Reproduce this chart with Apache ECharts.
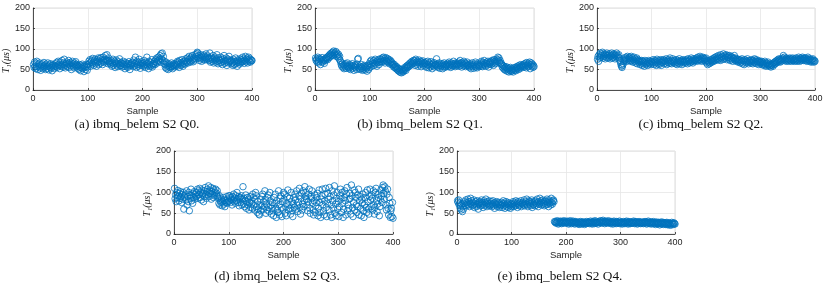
<!DOCTYPE html>
<html><head><meta charset="utf-8">
<script src="https://cdn.jsdelivr.net/npm/echarts@6/dist/echarts.min.js"></script>
<style>html,body{margin:0;padding:0;background:#fff}#c{width:831px;height:286px}</style>
</head><body><div id="c"></div>
<script>
const xTicks = [0, 100, 200, 300, 400];
const yTicks = [0, 50, 100, 150, 200];
const xLabel = 'Sample';
const yLabel = 'T\u2081(\u03bcs)';
const captions = ['(a) ibmq_belem S2 Q0.', '(b) ibmq_belem S2 Q1.', '(c) ibmq_belem S2 Q2.', '(d) ibmq_belem S2 Q3.', '(e) ibmq_belem S2 Q4.'];

const q0 = [
62,55,68,58,52,65,70,57,50,63,59,66,54,48,61,57,64,52,58,67,
55,60,50,63,57,52,66,58,49,61,55,64,53,59,47,62,56,60,52,58,
64,58,67,55,61,70,59,63,52,68,60,57,72,62,56,66,75,60,54,65,
61,68,57,64,72,55,62,67,59,50,65,70,58,63,54,66,61,69,57,62,
60,53,58,50,62,55,47,59,54,63,52,57,45,60,55,50,58,62,48,56,
62,70,65,74,58,68,72,63,77,66,60,71,75,64,69,58,73,67,78,62,
70,76,65,79,68,73,62,80,71,67,75,84,69,74,86,72,64,78,70,66,
68,62,72,58,66,75,60,64,70,55,67,73,61,65,57,69,63,76,59,66,
60,66,56,64,70,58,62,52,67,61,57,65,55,63,69,59,50,64,60,66,
62,68,57,73,64,59,80,66,55,70,62,58,67,75,61,53,65,69,60,64,
66,58,72,61,55,68,63,80,59,65,52,70,62,57,67,60,74,56,64,61,
65,70,62,74,68,78,66,72,80,70,75,84,68,88,76,90,72,82,65,70,
62,55,68,52,58,64,50,60,56,63,54,58,66,57,52,61,59,64,56,62,
60,66,58,70,63,68,55,72,64,60,67,74,62,58,69,65,71,63,76,67,
70,78,66,74,82,70,76,68,80,72,84,75,69,78,73,86,77,82,88,92,
90,78,84,72,80,76,86,70,82,75,79,85,73,81,77,88,74,80,83,76,
78,72,90,68,76,80,70,74,84,66,77,72,80,68,75,86,70,64,78,73,
72,66,80,68,74,62,76,70,84,65,72,68,78,60,71,75,66,82,69,73,
70,64,72,66,60,75,68,62,70,78,65,69,58,73,67,71,63,76,66,70,
74,68,80,70,76,65,72,82,69,75,78,66,73,80,70,76,68,74,71,72
];
const q1 = [
78,72,75,68,80,70,66,77,73,62,75,70,79,68,74,71,65,76,72,78,
76,80,74,82,78,85,80,88,83,90,86,92,84,95,88,91,86,94,82,90,
85,80,87,76,82,72,68,62,58,65,55,60,52,62,57,64,53,59,66,56,
58,52,62,55,50,60,57,64,53,59,48,56,61,54,58,50,63,75,77,55,
52,58,50,56,62,53,48,57,51,60,55,49,58,53,46,56,60,50,64,55,
70,62,73,58,68,65,72,60,66,75,63,69,58,71,67,74,62,68,76,70,
74,68,78,70,80,72,76,66,79,73,70,77,68,75,71,64,73,67,70,62,
66,60,63,56,62,55,58,52,57,50,54,47,52,45,50,43,48,42,51,46,
44,50,47,55,52,48,58,54,60,56,62,58,65,60,67,62,70,64,68,72,
66,72,60,75,68,63,70,58,67,73,62,66,70,57,68,64,71,60,67,63,
65,58,68,55,62,70,60,54,66,63,57,69,61,52,64,59,67,56,63,60,
62,76,58,64,55,60,66,53,61,57,64,59,52,63,58,66,55,61,57,62,
60,65,57,63,68,59,62,55,66,61,58,64,70,60,63,57,66,62,59,65,
62,68,58,64,72,60,65,56,67,63,59,70,61,66,57,64,60,68,62,58,
60,55,64,58,52,62,66,57,60,53,63,58,68,56,61,54,65,59,62,57,
60,66,58,70,63,57,67,62,72,60,65,58,68,64,61,70,56,66,63,69,
67,62,72,65,70,60,74,68,64,71,66,75,70,80,73,78,68,72,64,66,
62,56,60,53,58,50,55,48,57,52,46,54,50,44,53,48,55,45,51,47,
50,44,53,48,55,50,47,56,52,58,54,50,60,56,53,62,57,59,55,61,
58,63,56,65,60,54,67,61,57,64,59,68,52,62,66,58,63,55,60,57
];
const q2 = [
75,82,70,86,78,90,80,84,88,92,78,85,82,88,76,86,80,90,84,78,
85,80,88,76,84,82,90,78,86,80,88,84,76,86,82,90,78,84,80,86,
78,72,68,62,58,55,60,64,70,74,78,72,80,76,70,82,75,78,72,80,
76,70,82,72,78,68,74,80,70,76,66,72,78,64,74,70,68,72,62,70,
66,72,60,70,64,68,58,72,66,62,70,65,60,68,72,64,66,70,62,68,
70,65,74,68,62,72,66,70,60,75,68,64,72,62,70,66,74,60,68,72,
68,74,64,72,70,66,76,62,72,68,74,65,70,78,66,72,64,70,76,68,
72,66,70,64,74,68,62,72,66,70,76,64,70,68,72,62,70,74,66,70,
68,72,66,74,70,64,76,70,72,66,74,68,78,70,72,66,76,70,74,72,
76,72,78,70,80,74,76,72,82,74,78,70,76,80,72,78,74,76,70,78,
66,72,62,70,68,64,72,66,74,70,68,76,72,70,78,74,80,72,76,82,
78,74,84,76,80,72,86,78,82,74,80,88,76,84,78,82,86,74,80,84,
80,76,84,72,78,82,74,80,70,78,76,84,72,78,74,70,76,72,68,74,
70,74,66,72,68,76,64,72,70,62,74,68,72,66,70,76,68,64,72,70,
68,72,66,74,70,64,72,68,76,66,70,74,64,70,68,72,62,70,66,68,
66,70,62,68,64,60,66,70,62,58,66,64,60,68,62,58,64,60,56,62,
60,64,58,66,62,68,64,70,66,72,68,74,70,76,72,68,74,70,76,72,
78,84,74,80,72,76,70,78,74,72,76,70,74,78,72,76,70,74,78,72,
74,70,76,72,78,74,70,76,72,80,74,70,76,78,72,74,80,76,72,78,
76,72,78,74,70,76,80,72,74,70,76,72,68,74,70,76,72,68,72,70
];
const q3 = [
110,85,95,78,100,88,105,92,80,98,86,102,90,76,95,84,100,60,92,88,
96,82,104,70,90,78,100,56,94,86,108,80,92,74,98,88,102,84,95,90,
100,92,108,86,104,95,110,88,100,82,106,94,98,78,104,90,112,96,86,102,
108,94,116,90,104,98,112,84,102,96,110,88,106,92,100,108,94,98,104,90,
86,74,92,70,80,76,84,68,78,88,72,82,66,80,76,90,74,84,78,92,
80,92,76,88,84,70,90,82,96,78,86,74,92,80,100,84,76,90,68,86,
88,76,92,70,84,114,72,86,66,80,94,62,78,88,70,84,58,76,90,64,
80,74,62,96,88,70,58,84,100,92,66,52,78,60,48,46,70,84,56,68,
90,96,60,78,66,104,84,50,72,58,88,94,64,54,100,80,70,48,62,76,
56,44,88,74,96,62,40,80,58,52,104,70,46,86,92,64,42,78,60,100,
84,96,50,66,44,74,90,106,58,70,86,62,48,100,78,56,42,72,88,64,
96,82,60,104,70,54,76,92,110,64,48,86,98,58,72,104,66,80,114,90,
100,84,70,56,78,96,108,62,50,90,86,104,74,58,46,80,94,52,68,76,
88,98,44,62,106,76,52,40,84,92,108,70,56,46,80,96,110,64,42,74,
98,84,58,112,90,46,70,40,104,80,62,94,116,50,72,44,86,100,60,78,
42,66,92,108,84,52,100,74,40,60,88,104,80,46,96,112,56,70,62,84,
98,86,48,118,92,64,42,76,106,58,100,88,70,52,66,94,108,46,80,90,
62,44,84,74,96,56,40,70,88,100,64,52,106,78,60,48,90,108,82,66,
94,86,58,104,70,48,64,100,110,80,54,72,88,96,44,66,84,106,92,76,
112,118,98,84,114,104,70,58,96,108,62,46,88,74,40,56,62,42,76,38
];
const q4 = [
80,76,82,70,74,62,68,58,72,54,66,60,74,78,70,82,68,76,72,84,
70,78,66,74,86,72,80,68,76,70,82,64,74,78,70,66,80,72,60,76,
72,78,68,74,82,70,76,64,72,80,68,76,84,72,66,78,74,70,80,68,
74,70,78,66,72,80,68,74,62,76,72,70,78,66,74,70,76,64,72,68,
70,76,64,72,80,68,74,62,70,78,66,72,76,64,70,74,68,62,72,66,
74,70,78,66,72,76,68,80,70,74,64,78,72,68,76,70,80,66,74,72,
76,70,82,68,74,78,72,84,70,66,76,80,72,78,68,74,82,64,76,70,
72,78,68,80,74,70,84,76,66,78,72,86,74,80,70,76,82,72,78,68,
74,80,70,78,84,72,76,66,82,74,78,70,86,76,72,80,82,78,30,28,
30,26,28,32,27,24,30,29,26,31,28,25,30,27,29,32,26,28,30,27,
28,31,26,29,24,30,27,32,28,25,29,27,31,26,28,24,30,27,29,26,
27,25,29,23,28,26,30,24,27,29,25,28,26,23,29,27,25,30,26,28,
27,29,25,28,31,26,28,24,30,27,29,25,32,28,26,30,27,29,24,28,
30,27,32,28,26,31,29,33,27,30,25,29,31,28,26,30,28,32,27,29,
28,25,30,27,29,24,28,31,26,29,27,25,30,28,26,29,27,31,25,28,
27,29,24,28,26,30,27,25,29,28,31,26,28,24,30,27,29,25,28,26,
29,26,28,31,27,25,30,28,26,29,24,28,27,30,26,28,25,29,27,26,
28,25,29,27,30,26,28,24,29,27,31,26,28,25,29,27,24,28,26,30,
27,25,28,23,26,29,25,27,24,28,26,22,27,25,29,24,26,28,23,27,
25,27,23,26,28,24,22,27,25,23,26,21,25,28,24,26,23,27,25,24
];
const allSeries = [q0, q1, q2, q3, q4];

const grids = [
  {left: 33, top: 8, width: 219, height: 82},
  {left: 315, top: 8, width: 219, height: 82},
  {left: 597, top: 8, width: 218, height: 82},
  {left: 174, top: 151, width: 219, height: 83},
  {left: 457, top: 151, width: 218, height: 83}
];
const capPos = [[137, 125], [420, 125], [701, 125], [277, 277], [560, 277]];

const axisColor = '#262626';
const sans = 'Liberation Sans, Arial, Helvetica, sans-serif';
const serif = 'Liberation Serif, Times New Roman, DejaVu Serif, serif';

const chart = echarts.init(document.getElementById('c'), null, {renderer: 'canvas'});
const option = {
  animation: false,
  backgroundColor: '#fff',
  grid: grids.map(g => Object.assign({show: true, borderColor: '#d4d4d4', borderWidth: 0.8, backgroundColor: 'transparent', containLabel: false}, g)),
  xAxis: grids.map((g, i) => ({
    gridIndex: i, type: 'value',
    min: xTicks[0], max: xTicks[xTicks.length - 1], interval: xTicks[1] - xTicks[0],
    name: xLabel, nameLocation: 'middle', nameGap: 16,
    nameTextStyle: {fontFamily: sans, fontSize: 9.5, color: axisColor},
    axisLine: {show: true, onZero: false, lineStyle: {color: axisColor, width: 0.8}},
    axisTick: {show: true, inside: true, length: 2, lineStyle: {color: axisColor, width: 0.8}},
    axisLabel: {fontFamily: sans, fontSize: 9, color: axisColor, margin: 4},
    splitLine: {show: true, lineStyle: {color: '#e6e6e6', width: 0.8}}
  })),
  yAxis: grids.map((g, i) => ({
    gridIndex: i, type: 'value',
    min: yTicks[0], max: yTicks[yTicks.length - 1], interval: yTicks[1] - yTicks[0],
    name: yLabel, nameLocation: 'middle', nameGap: 19, nameRotate: 90,
    nameTextStyle: {fontFamily: serif, fontStyle: 'italic', fontSize: 10, color: axisColor, padding: [0, 24, 0, 0]},
    axisLine: {show: true, onZero: false, lineStyle: {color: axisColor, width: 0.8}},
    axisTick: {show: true, inside: true, length: 2, lineStyle: {color: axisColor, width: 0.8}},
    axisLabel: {fontFamily: sans, fontSize: 9, color: axisColor, margin: 3},
    splitLine: {show: true, lineStyle: {color: '#e6e6e6', width: 0.8}}
  })),
  series: allSeries.map((d, i) => ({
    type: 'scatter', xAxisIndex: i, yAxisIndex: i,
    data: d.map((v, j) => [j + 1, v]),
    symbol: 'circle', symbolSize: 6.5, clip: false, silent: true,
    itemStyle: {color: 'rgba(0,0,0,0)', borderColor: '#0072BD', borderWidth: 1},
    emphasis: {disabled: true}
  })),
  graphic: captions.map((t, i) => ({
    type: 'text', x: capPos[i][0], y: capPos[i][1], silent: true,
    style: {text: t, fill: '#111', font: '13.3px ' + serif, textAlign: 'center', textVerticalAlign: 'middle'}
  }))
};
chart.setOption(option);
</script></body></html>
